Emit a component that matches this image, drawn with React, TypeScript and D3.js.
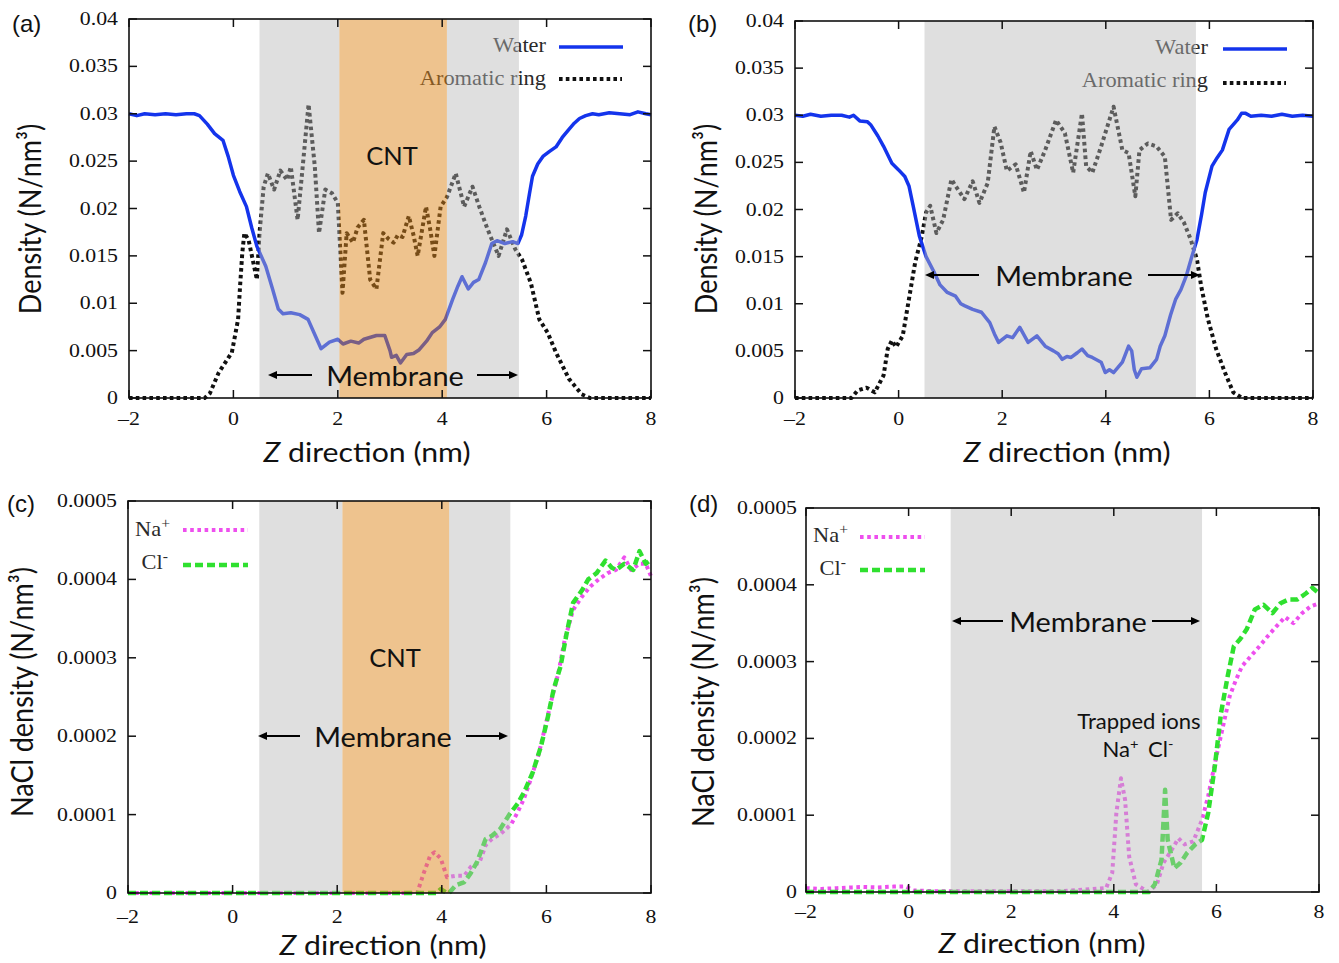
import React from "react";
import * as d3 from "d3";

// ---------------- DATA ----------------
const xTicks = [-2, 0, 2, 4, 6, 8];
const xTickLabels = ["\u20132", "0", "2", "4", "6", "8"];

const yTicksTop = [0, 0.005, 0.01, 0.015, 0.02, 0.025, 0.03, 0.035, 0.04];
const yTickLabelsTop = ["0", "0.005", "0.01", "0.015", "0.02", "0.025", "0.03", "0.035", "0.04"];
const yTicksBottom = [0, 0.0001, 0.0002, 0.0003, 0.0004, 0.0005];
const yTickLabelsBottom = ["0", "0.0001", "0.0002", "0.0003", "0.0004", "0.0005"];

// shaded regions (nm)
const membraneA = [0.5, 5.47];
const cntA = [2.03, 4.09];
const membraneB = [0.5, 5.74];
const membraneC = [0.51, 5.31];
const cntC = [2.1, 4.14];
const membraneD = [0.82, 5.72];

type Pt = [number, number];

const waterA: Pt[] = [[-2,0.0300],[-1.85,0.0298],[-1.7,0.0300],[-1.5,0.0299],[-1.3,0.0300],[-1.1,0.0299],[-0.9,0.0300],[-0.75,0.0300],[-0.65,0.0298],[-0.5,0.0289],[-0.36,0.0279],[-0.2,0.0272],[-0.1,0.0255],[0.0,0.0235],[0.12,0.0218],[0.25,0.0202],[0.35,0.0180],[0.45,0.0160],[0.62,0.0139],[0.75,0.0115],[0.86,0.0094],[0.95,0.0089],[1.1,0.0090],[1.27,0.0088],[1.43,0.0083],[1.55,0.0068],[1.68,0.0052],[1.84,0.0059],[2.0,0.0062],[2.1,0.0057],[2.25,0.0060],[2.4,0.0058],[2.5,0.0062],[2.74,0.0066],[2.9,0.0066],[3.0,0.0050],[3.03,0.0043],[3.12,0.0045],[3.2,0.0037],[3.32,0.0046],[3.45,0.0047],[3.56,0.0051],[3.7,0.0060],[3.81,0.0069],[3.95,0.0075],[4.06,0.0083],[4.2,0.0104],[4.3,0.0118],[4.38,0.0128],[4.5,0.0115],[4.6,0.0122],[4.7,0.0125],[4.83,0.0143],[4.95,0.0163],[5.05,0.0166],[5.2,0.0163],[5.35,0.0165],[5.45,0.0163],[5.52,0.0172],[5.6,0.0192],[5.67,0.0215],[5.73,0.0234],[5.83,0.0247],[5.93,0.0255],[6.05,0.0260],[6.18,0.0265],[6.3,0.0275],[6.42,0.0283],[6.53,0.0290],[6.63,0.0295],[6.75,0.0298],[6.88,0.0300],[7.0,0.0299],[7.2,0.0301],[7.4,0.0300],[7.6,0.0299],[7.75,0.0302],[7.9,0.0300],[8,0.0299]];

const ringA: Pt[] = [[-2,0],[-1,0],[-0.55,0],[-0.45,0.0005],[-0.28,0.0027],[-0.1,0.0042],[-0.03,0.0048],[0.09,0.0083],[0.13,0.0120],[0.17,0.0153],[0.21,0.0174],[0.29,0.0167],[0.37,0.0146],[0.45,0.0125],[0.5,0.0174],[0.58,0.0223],[0.66,0.0237],[0.78,0.0220],[0.9,0.0240],[1.03,0.0230],[1.1,0.0244],[1.23,0.0188],[1.31,0.0234],[1.44,0.0310],[1.56,0.0244],[1.64,0.0174],[1.76,0.0220],[1.89,0.0216],[2.0,0.0206],[2.09,0.0111],[2.17,0.0174],[2.29,0.0164],[2.38,0.0180],[2.5,0.0188],[2.62,0.0125],[2.74,0.0115],[2.87,0.0174],[2.97,0.0168],[3.07,0.0164],[3.15,0.0172],[3.24,0.0170],[3.36,0.0192],[3.45,0.0172],[3.53,0.0150],[3.69,0.0202],[3.77,0.0178],[3.85,0.0150],[3.97,0.0202],[4.09,0.0212],[4.26,0.0237],[4.42,0.0202],[4.58,0.0223],[4.71,0.0202],[4.87,0.0178],[5.08,0.0150],[5.24,0.0178],[5.4,0.0157],[5.53,0.0146],[5.7,0.0121],[5.86,0.0083],[6.02,0.0069],[6.18,0.0048],[6.43,0.0020],[6.67,0.0004],[6.83,0],[8,0]];

const waterB: Pt[] = [[-2,0.0300],[-1.85,0.0299],[-1.7,0.0301],[-1.5,0.0299],[-1.3,0.0300],[-1.1,0.0300],[-0.95,0.0298],[-0.87,0.0300],[-0.75,0.0294],[-0.6,0.0293],[-0.54,0.0290],[-0.4,0.0278],[-0.29,0.0267],[-0.13,0.0249],[0.0,0.0242],[0.12,0.0235],[0.2,0.0225],[0.28,0.0204],[0.4,0.0172],[0.53,0.0150],[0.69,0.0133],[0.8,0.0120],[0.94,0.0112],[1.1,0.0108],[1.2,0.0100],[1.27,0.0098],[1.43,0.0094],[1.6,0.0091],[1.76,0.0080],[1.85,0.0068],[1.93,0.0059],[2.09,0.0066],[2.2,0.0064],[2.34,0.0075],[2.5,0.0059],[2.67,0.0066],[2.83,0.0055],[2.99,0.0050],[3.08,0.0047],[3.16,0.0041],[3.25,0.0044],[3.33,0.0043],[3.45,0.0048],[3.54,0.0052],[3.65,0.0045],[3.74,0.0043],[3.91,0.0038],[3.99,0.0027],[4.07,0.0030],[4.15,0.0027],[4.32,0.0038],[4.44,0.0055],[4.5,0.0050],[4.55,0.0030],[4.6,0.0022],[4.69,0.0031],[4.85,0.0032],[4.98,0.0041],[5.05,0.0055],[5.14,0.0066],[5.25,0.0088],[5.35,0.0105],[5.45,0.0115],[5.55,0.0129],[5.65,0.0148],[5.76,0.0168],[5.85,0.0195],[5.92,0.0218],[6.05,0.0246],[6.15,0.0255],[6.25,0.0263],[6.38,0.0285],[6.54,0.0295],[6.62,0.0302],[6.7,0.0302],[6.8,0.0299],[7.0,0.0300],[7.2,0.0299],[7.4,0.0301],[7.6,0.0299],[7.8,0.0300],[8,0.0299]];

const ringB: Pt[] = [[-2,0],[-1.0,0],[-0.91,0],[-0.79,0.0008],[-0.62,0.0011],[-0.46,0.0006],[-0.29,0.0024],[-0.21,0.0052],[-0.13,0.0061],[-0.05,0.0054],[0.08,0.0066],[0.2,0.0105],[0.32,0.0144],[0.45,0.0172],[0.53,0.0197],[0.61,0.0204],[0.73,0.0175],[0.86,0.0189],[1.02,0.0232],[1.1,0.0225],[1.27,0.0211],[1.43,0.0230],[1.56,0.0207],[1.72,0.0228],[1.85,0.0288],[1.97,0.0271],[2.09,0.0241],[2.26,0.0248],[2.42,0.0218],[2.55,0.0262],[2.67,0.0242],[2.83,0.0263],[3.04,0.0295],[3.21,0.0281],[3.37,0.0239],[3.54,0.0302],[3.62,0.0246],[3.74,0.0239],[3.91,0.0267],[4.15,0.0309],[4.32,0.0263],[4.44,0.0260],[4.57,0.0214],[4.65,0.0263],[4.81,0.0270],[4.98,0.0267],[5.14,0.0256],[5.26,0.0189],[5.39,0.0196],[5.51,0.0186],[5.64,0.0168],[5.76,0.0147],[5.84,0.0119],[5.97,0.0084],[6.13,0.0052],[6.3,0.0027],[6.46,0.0006],[6.63,0],[8,0]];

const naC: Pt[] = [[-2,0],[3.5,0],[3.53,0],[3.65,0.0000246],[3.78,0.000048],[3.86,0.000052],[3.98,0.000044],[4.1,0.00002],[4.27,0.000022],[4.43,0.000022],[4.55,0.000033],[4.72,0.000039],[4.84,0.000061],[4.96,0.000069],[5.12,0.000075],[5.33,0.000088],[5.45,0.000103],[5.57,0.00012],[5.7,0.000145],[5.86,0.000179],[5.98,0.000213],[6.1,0.000247],[6.23,0.000281],[6.35,0.000323],[6.51,0.000361],[6.68,0.000378],[6.84,0.000391],[7.0,0.0004],[7.17,0.000408],[7.33,0.000412],[7.49,0.000428],[7.62,0.000412],[7.78,0.00042],[7.9,0.00042],[8,0.000404]];

const clC: Pt[] = [[-2,0],[3.9,0],[3.98,0.000005],[4.1,0],[4.14,0],[4.27,0.00001],[4.43,0.000014],[4.55,0.000025],[4.67,0.000039],[4.84,0.000069],[4.96,0.000073],[5.12,0.000082],[5.29,0.0001],[5.45,0.000114],[5.57,0.000128],[5.74,0.000154],[5.9,0.000188],[6.02,0.000222],[6.14,0.00026],[6.27,0.000289],[6.39,0.000332],[6.51,0.00037],[6.68,0.000386],[6.8,0.0004],[6.96,0.000408],[7.13,0.000424],[7.25,0.000415],[7.33,0.000412],[7.49,0.00042],[7.66,0.000412],[7.78,0.000436],[7.9,0.00042],[8,0.000425]];

const naD: Pt[] = [[-2,0.000005],[-1.7,0.000004],[-1.4,0.000005],[-1.1,0.000006],[-0.89,0.0000065],[-0.6,0.000006],[-0.3,0.000007],[-0.06,0.0000074],[0.1,0.000002],[0.5,0.000001],[1,0.000001],[2,0.000001],[3,0.000001],[3.85,0.000005],[3.97,0.000025],[4.05,0.000103],[4.14,0.000148],[4.22,0.00012],[4.3,0.000046],[4.43,0.00001],[4.55,0.000005],[4.68,0],[4.84,0.00001],[4.97,0.000038],[5.13,0.000055],[5.26,0.00007],[5.38,0.000062],[5.55,0.000066],[5.72,0.000094],[5.84,0.000125],[6.0,0.000177],[6.13,0.000216],[6.26,0.000255],[6.38,0.000276],[6.5,0.000294],[6.67,0.000307],[6.84,0.00032],[7.0,0.000333],[7.17,0.000346],[7.34,0.000358],[7.5,0.00035],[7.67,0.000363],[7.84,0.000372],[8,0.000376]];

const clD: Pt[] = [[-2,0],[4.68,0],[4.8,0.00001],[4.93,0.000042],[5.0,0.000133],[5.05,0.000068],[5.18,0.000031],[5.3,0.000038],[5.43,0.000051],[5.59,0.000062],[5.72,0.000068],[5.84,0.000103],[5.97,0.000164],[6.09,0.000233],[6.22,0.000281],[6.34,0.00032],[6.46,0.000329],[6.59,0.000342],[6.75,0.000368],[6.92,0.000374],[7.09,0.000363],[7.25,0.000376],[7.41,0.000381],[7.58,0.000381],[7.75,0.000389],[7.87,0.000396],[8,0.000389]];

// ---------------- STYLES ----------------
const SX = 1.12;
const SERIF = "'Liberation Serif', 'Times New Roman', serif";
const SANS = "Lato, 'Open Sans', sans-serif";
const LABEL_SANS = "'Liberation Sans', Arial, sans-serif";

const styleWater = { stroke: "#1434ec", width: 3.5, dash: undefined as string | undefined };
const styleRing = { stroke: "#111111", width: 4, dash: "3.6 3.2" };
const styleNa = { stroke: "#ee4fee", width: 4, dash: "3.6 3.6" };
const styleCl = { stroke: "#2fe02f", width: 4.5, dash: "8 4" };

const GRAY = { fill: "#b8b8b8", opacity: 0.45 };
const ORANGE = { fill: "#de871e", opacity: 0.5 };

function T(props: any) {
  const { x, y, rotate, anchor = "middle", size = 18, family = SANS, fill = "#111", children, sx = SX, style } = props;
  return (
    <text
      transform={`translate(${x},${y}) scale(${sx},1)${rotate ? " rotate(-90)" : ""}`}
      textAnchor={anchor}
      fontSize={size}
      fontFamily={family}
      fill={fill}
      style={style}
    >
      {children}
    </text>
  );
}

function Arrow({ x1, x2, y }: { x1: number; x2: number; y: number }) {
  const dir = x2 > x1 ? 1 : -1;
  const hl = 9, hw = 4;
  return (
    <g>
      <line x1={x1} y1={y} x2={x2 - dir * hl * 0.6} y2={y} stroke="#000" strokeWidth={2} />
      <path d={`M${x2},${y} L${x2 - dir * hl},${y - hw} L${x2 - dir * hl},${y + hw} Z`} fill="#000" />
    </g>
  );
}

type Series = { data: Pt[]; style: { stroke: string; width: number; dash?: string } };

function Sup({ base, sup }: { base: string; sup: string }) {
  return (
    <>
      <tspan>{base}</tspan>
      <tspan fontSize={14} dy={-8}>{sup}</tspan>
    </>
  );
}

function Panel(p: any) {
  const x = d3.scaleLinear().domain([-2, 8]).range([p.left, p.right]);
  const y = d3.scaleLinear().domain([0, p.yMax]).range([p.bottom, p.top]);
  const line = d3.line<Pt>().x((d) => x(d[0])).y((d) => y(d[1]));
  const tl = 8;

  const grayParts: [number, number][] = p.cnt
    ? [[p.membrane[0], p.cnt[0]], [p.cnt[1], p.membrane[1]]]
    : [[p.membrane[0], p.membrane[1]]];

  return (
    <g>
      {(p.series as Series[]).map((s, i) => (
        <path
          key={i}
          d={line(s.data) || ""}
          fill="none"
          stroke={s.style.stroke}
          strokeWidth={s.style.width}
          strokeDasharray={s.style.dash}
          strokeLinejoin="round"
        />
      ))}
      {p.legend.map((it: any, i: number) => (
        <g key={"lg" + i}>
          <T x={it.tx} y={it.ty} anchor="end" size={20} family={SERIF} fill="#2a2a2a">
            {it.label}
          </T>
          <line x1={it.lx0} x2={it.lx1} y1={it.ly} y2={it.ly} stroke={it.style.stroke} strokeWidth={it.style.width} strokeDasharray={it.style.dash} />
        </g>
      ))}
      {grayParts.map((g, i) => (
        <rect key={"g" + i} x={x(g[0])} y={p.top} width={x(g[1]) - x(g[0])} height={p.bottom - p.top} fill={GRAY.fill} fillOpacity={GRAY.opacity} />
      ))}
      {p.cnt && (
        <rect x={x(p.cnt[0])} y={p.top} width={x(p.cnt[1]) - x(p.cnt[0])} height={p.bottom - p.top} fill={ORANGE.fill} fillOpacity={ORANGE.opacity} />
      )}
      <rect x={p.left} y={p.top} width={p.right - p.left} height={p.bottom - p.top} fill="none" stroke="#111" strokeWidth={1.6} />
      {xTicks.map((t, i) => (
        <g key={"xt" + i}>
          <line x1={x(t)} x2={x(t)} y1={p.bottom} y2={p.bottom - tl} stroke="#111" strokeWidth={1.5} />
          <line x1={x(t)} x2={x(t)} y1={p.top} y2={p.top + tl} stroke="#111" strokeWidth={1.5} />
          <T x={x(t)} y={p.bottom + p.xLabDy} size={19.5} family={SERIF} fill="#111">
            {xTickLabels[i]}
          </T>
        </g>
      ))}
      {p.yTicks.map((t: number, i: number) => (
        <g key={"yt" + i}>
          <line x1={p.left} x2={p.left + tl} y1={y(t)} y2={y(t)} stroke="#111" strokeWidth={1.5} />
          <line x1={p.right} x2={p.right - tl} y1={y(t)} y2={y(t)} stroke="#111" strokeWidth={1.5} />
          <T x={p.left - p.yLabDx} y={y(t) + 6} anchor="end" size={19.5} family={SERIF} fill="#111">
            {p.yTickLabels[i]}
          </T>
        </g>
      ))}
      <T x={p.labelX} y={p.labelY} anchor="start" size={24} family={LABEL_SANS} fill="#111" sx={1}>
        {p.label}
      </T>
      <T x={p.xTitleX} y={p.xTitleY} size={27} family={SANS}>
        <tspan fontStyle="italic">Z</tspan>
        <tspan> direction (nm)</tspan>
      </T>
      <T x={p.yTitleX} y={p.yTitleY} rotate size={27} family={SANS}>
        {p.yTitle}
      </T>
      {p.children}
    </g>
  );
}

export default function App() {
  return (
    <svg width={1339} height={963} style={{ display: "block", position: "absolute", left: 0, top: 0, background: "#fff" }}>
      {/* (a) */}
      <Panel
        label="(a)" labelX={12} labelY={32}
        left={129} right={651} top={19} bottom={398}
        yMax={0.04} yTicks={yTicksTop} yTickLabels={yTickLabelsTop}
        xLabDy={27} yLabDx={11}
        membrane={membraneA} cnt={cntA}
        series={[{ data: ringA, style: styleRing }, { data: waterA, style: styleWater }]}
        legend={[
          { label: "Water", tx: 546, ty: 52, lx0: 559, lx1: 623, ly: 47, style: styleWater },
          { label: "Aromatic ring", tx: 546, ty: 85, lx0: 559, lx1: 622, ly: 79, style: styleRing },
        ]}
        xTitleX={367} xTitleY={462}
        yTitleX={41} yTitleY={219} yTitle="Density (N/nm³)"
      >
        <T x={392} y={165} size={25} sx={1.02}>CNT</T>
        <T x={395} y={386} size={27} sx={1.07}>Membrane</T>
        <Arrow x1={312} x2={268} y={375} />
        <Arrow x1={477} x2={518} y={375} />
      </Panel>

      {/* (b) */}
      <Panel
        label="(b)" labelX={688} labelY={32}
        left={795} right={1313} top={21} bottom={398}
        yMax={0.04} yTicks={yTicksTop} yTickLabels={yTickLabelsTop}
        xLabDy={27} yLabDx={11}
        membrane={membraneB}
        series={[{ data: ringB, style: styleRing }, { data: waterB, style: styleWater }]}
        legend={[
          { label: "Water", tx: 1208, ty: 54, lx0: 1223, lx1: 1287, ly: 49, style: styleWater },
          { label: "Aromatic ring", tx: 1208, ty: 87, lx0: 1223, lx1: 1286, ly: 83, style: styleRing },
        ]}
        xTitleX={1067} xTitleY={462}
        yTitleX={717} yTitleY={219} yTitle="Density (N/nm³)"
      >
        <T x={1064} y={286} size={27} sx={1.07}>Membrane</T>
        <Arrow x1={979} x2={925} y={275} />
        <Arrow x1={1148} x2={1200} y={275} />
      </Panel>

      {/* (c) */}
      <Panel
        label="(c)" labelX={7} labelY={512}
        left={128} right={651} top={501} bottom={893}
        yMax={0.0005} yTicks={yTicksBottom} yTickLabels={yTickLabelsBottom}
        xLabDy={30} yLabDx={11}
        membrane={membraneC} cnt={cntC}
        series={[{ data: naC, style: styleNa }, { data: clC, style: styleCl }]}
        legend={[
          { label: <Sup base="Na" sup="+" />, tx: 170, ty: 536, lx0: 183, lx1: 248, ly: 530, style: styleNa },
          { label: <Sup base="Cl" sup="-" />, tx: 168, ty: 569, lx0: 183, lx1: 248, ly: 565, style: styleCl },
        ]}
        xTitleX={383} xTitleY={955}
        yTitleX={33} yTitleY={692} yTitle="NaCl density (N/nm³)"
      >
        <T x={395} y={667} size={25} sx={1.02}>CNT</T>
        <T x={383} y={747} size={27} sx={1.07}>Membrane</T>
        <Arrow x1={300} x2={258} y={736} />
        <Arrow x1={466} x2={508} y={736} />
      </Panel>

      {/* (d) */}
      <Panel
        label="(d)" labelX={689} labelY={512}
        left={806} right={1319} top={508} bottom={892}
        yMax={0.0005} yTicks={yTicksBottom} yTickLabels={yTickLabelsBottom}
        xLabDy={26} yLabDx={9}
        membrane={membraneD}
        series={[{ data: naD, style: styleNa }, { data: clD, style: styleCl }]}
        legend={[
          { label: <Sup base="Na" sup="+" />, tx: 848, ty: 542, lx0: 860, lx1: 925, ly: 537, style: styleNa },
          { label: <Sup base="Cl" sup="-" />, tx: 846, ty: 575, lx0: 860, lx1: 925, ly: 570, style: styleCl },
        ]}
        xTitleX={1042} xTitleY={953}
        yTitleX={714} yTitleY={702} yTitle="NaCl density (N/nm³)"
      >
        <T x={1078} y={632} size={27} sx={1.07}>Membrane</T>
        <Arrow x1={1003} x2={952} y={621} />
        <Arrow x1={1152} x2={1200} y={621} />
        <T x={1139} y={729} size={21} sx={1.05}>Trapped ions</T>
        <T x={1138} y={757} size={21} sx={1.05}>
          <tspan>Na</tspan>
          <tspan fontSize={14} dy={-8}>+</tspan>
          <tspan dy={8} dx={9}>Cl</tspan>
          <tspan fontSize={14} dy={-8}>-</tspan>
        </T>
      </Panel>
    </svg>
  );
}
